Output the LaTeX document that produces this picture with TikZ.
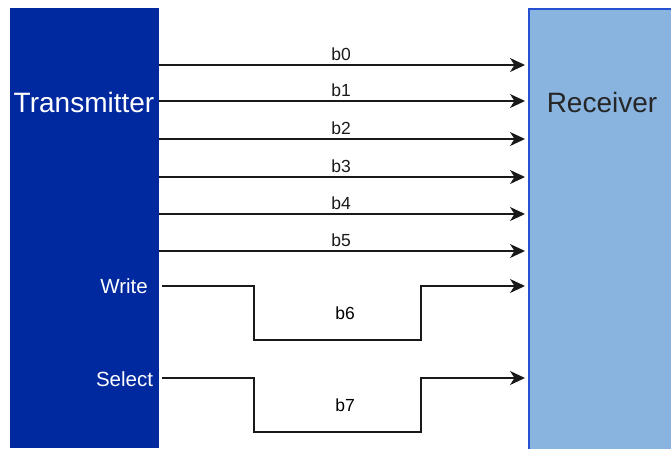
\documentclass[tikz,border=0pt]{standalone}
\usepackage{fontspec}
\setmainfont{Liberation Sans}
\usetikzlibrary{arrows.meta}
\definecolor{txblue}{RGB}{0,41,160}
\definecolor{rxfill}{RGB}{137,180,224}
\definecolor{rxedge}{RGB}{40,80,210}
\begin{document}
\begin{tikzpicture}[x=1pt,y=-1pt,
  block/.style={rectangle,inner sep=0pt,anchor=north west},
  bigtext/.style={font=\fontsize{28}{32}\selectfont},
  ctl/.style={font=\fontsize{20.5}{24}\selectfont,text=white},
  sig/.style={font=\fontsize{17.5}{20}\selectfont},
  wire/.style={line width=1.4pt,black!90},
  bus/.style={wire,-{Stealth[length=15pt,width=14pt,inset=4.5pt]}}]
\useasboundingbox (0,0) rectangle (671,448);
% the two blocks
\node[block,fill=txblue,minimum width=149pt,minimum height=440pt] (tx) at (10,8) {};
\node[block,fill=rxfill,draw=rxedge,line width=1.5pt,minimum width=150pt,minimum height=445pt] (rx) at (528,8) {};
\node[bigtext,text=white] (txlabel) at (84,102) {Transmitter};
\node[bigtext,text=black!85] (rxlabel) at (602,102) {Receiver};
% control line sources
\node[ctl] (write) at (124,286) {Write};
\node[ctl] (select) at (124.5,379) {Select};
\coordinate (w0) at (162,286);
\coordinate (s0) at (162,378);
% data bits b0..b5
\foreach \i/\y in {0/65,1/101,2/139,3/177,4/214,5/251}{
  \coordinate (src\i) at (tx.west |- 0,\y);
  \coordinate (dst\i) at (525,\y);
  \draw[bus] (tx.east |- src\i) -- (dst\i)
    node[sig,midway,above=0.5pt,xshift=-1pt] (lbl\i) {b\i};
}
% stepped lines b6 and b7
\coordinate (dst6) at (525,286);
\coordinate (dst7) at (525,378);
\draw[bus] (w0) -- (254,286) -- (254,340) -- (421,340) -- (421,286) -- (dst6);
\draw[bus] (s0) -- (254,378) -- (254,432) -- (421,432) -- (421,378) -- (dst7);
\node[sig] (lbl6) at (345,313) {b6};
\node[sig] (lbl7) at (345,405) {b7};
\end{tikzpicture}
\end{document}
